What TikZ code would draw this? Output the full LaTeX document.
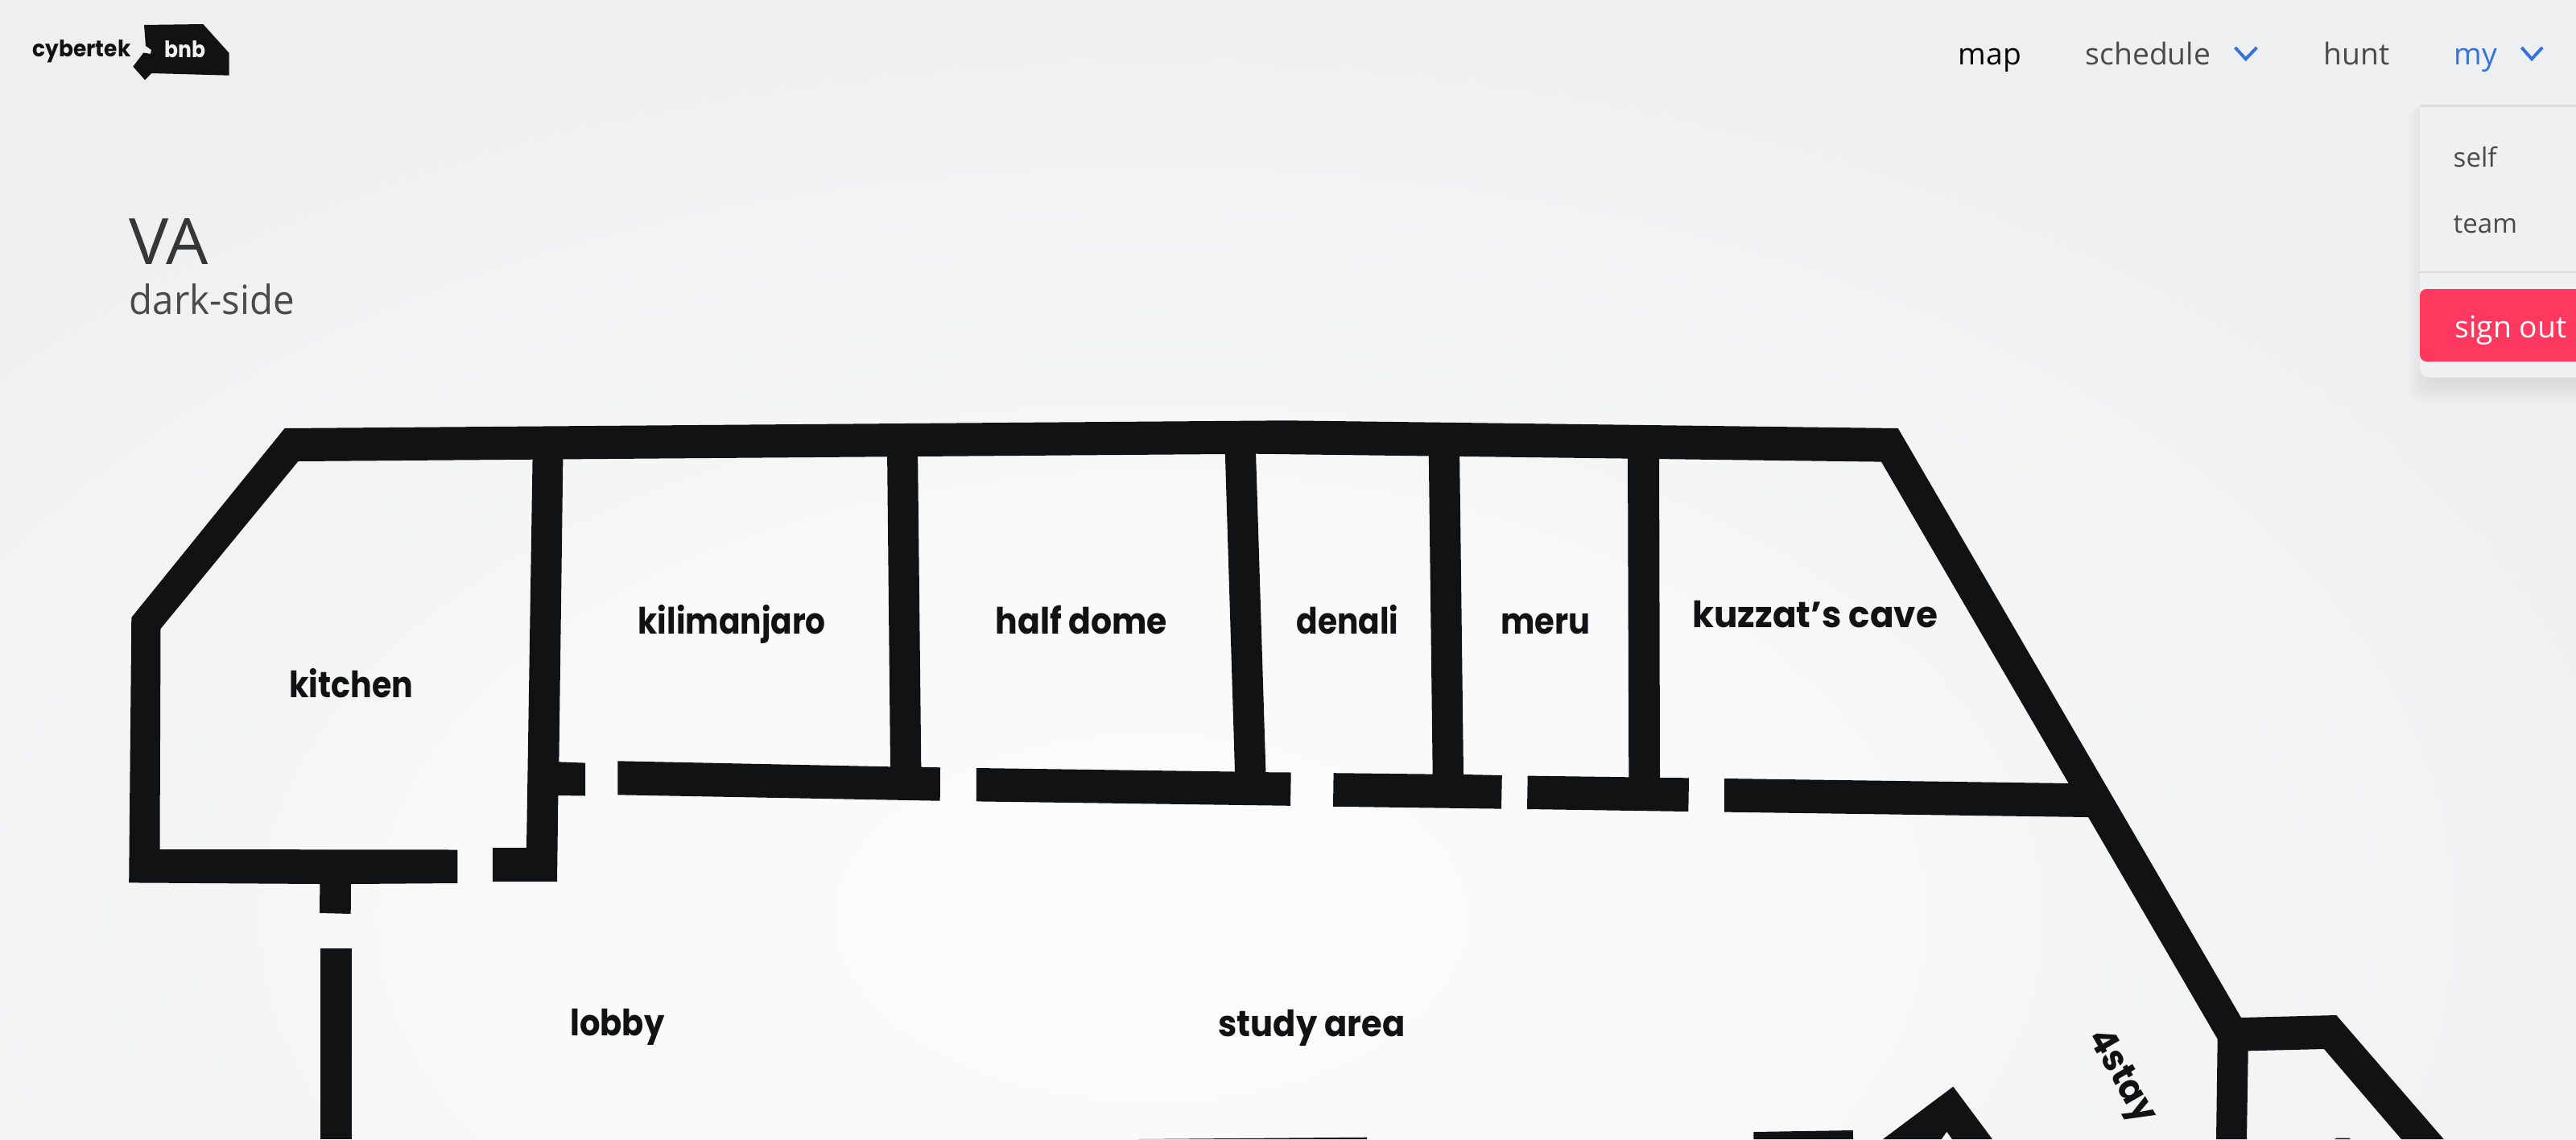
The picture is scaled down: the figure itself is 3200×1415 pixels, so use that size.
\documentclass[tikz,border=0pt]{standalone}
\usepackage{fontspec}
\setmainfont{Open Sans}
\newfontfamily\roomfont{Poppins}
\usetikzlibrary{positioning}
\definecolor{colorWall}{HTML}{111214}
\definecolor{colorGlowA}{HTML}{FCFBFB}
\definecolor{colorGlowB}{HTML}{FAFAFA}
\definecolor{colorGlowC}{HTML}{F5F5F5}
\definecolor{colorGlowD}{HTML}{F3F4F4}
\definecolor{colorGlowE}{HTML}{F1F2F3}
\definecolor{colorPage}{HTML}{EEEFF0}
\definecolor{colorPanel}{HTML}{EFF0F1}
\definecolor{colorLine}{HTML}{DCDCDC}
\definecolor{colorTitle}{HTML}{363636}
\definecolor{colorText}{HTML}{4A4A4A}
\definecolor{colorLink}{HTML}{3273DC}
\definecolor{colorDanger}{HTML}{FF3860}
\pgfdeclareradialshading{pageglow}{\pgfpointorigin}{color(0bp)=(colorGlowA); color(7bp)=(colorGlowB); color(10.2bp)=(colorGlowC); color(12bp)=(colorGlowD); color(15.3bp)=(colorGlowE); color(17.6bp)=(colorPage); color(50bp)=(colorPage)}
\tikzset{
  wall/.style={fill=colorWall},
  roomlabel/.style={anchor=base west, inner sep=0pt, text=colorWall, font=\roomfont\fontsize{12.8}{15}\selectfont\bfseries\addfontfeatures{FakeStretch=#1}},
  roomlabel/.default=0.9,
  logolabel/.style={anchor=base west, inner sep=0pt, text=colorWall, font=\roomfont\fontsize{8}{10}\selectfont\bfseries\addfontfeatures{FakeStretch=#1}},
  navlabel/.style={anchor=base west, inner sep=0pt, text=colorText, font=\fontsize{10.6}{13}\selectfont},
  menulabel/.style={anchor=base west, inner sep=0pt, text=colorText, font=\fontsize{9.4}{12}\selectfont},
  chevron/.style={draw=colorLink, line width=1.1pt, miter limit=10},
}
\begin{document}
\begin{tikzpicture}[x=0.01cm, y=-0.01cm]
\useasboundingbox (0,0) rectangle (3200,1415);
\clip (0,0) rectangle (3200,1415);
\shade[shading=pageglow] (1430,1140) ellipse (2800 and 1615);
% logo
\fill[wall] (179,31) -- (252.3,30) -- (284.7,66) -- (284.7,93.7) -- (188.3,91) -- (180,99.3) -- (165.3,82.7) -- (178.3,65.5) -- (187,67) -- (188,62) -- (181,57) -- cycle;
\node[logolabel=0.94] (logoLeft) at (40,70.7) {cybertek};
\node[logolabel=0.89, text=colorPanel] (logoRight) at (204,71.7) {bnb};
% title
\node[navlabel, text=colorTitle, font=\fontsize{22.6}{26}\selectfont\addfontfeatures{FakeStretch=1.04}] (siteTitle) at (160,328) {VA};
\node[navlabel, font=\fontsize{14.2}{17}\selectfont\addfontfeatures{FakeStretch=0.95}] (siteTeam) at (160,390.7) {dark-side};
% navigation
\node[navlabel, text=black] (navMap) at (2432,80.7) {map};
\node[navlabel] (navSchedule) at (2590,80.7) {schedule};
\node[navlabel] (navHunt) at (2886,80.7) {hunt};
\node[navlabel, text=colorLink] (navMy) at (3048,80.7) {my};
\draw[chevron] (2776.5,59) -- (2789.7,73.3) -- (2803.4,59);
\draw[chevron] (3132.4,59) -- (3145,73.3) -- (3158.2,59);
% dropdown
\foreach \grow in {-14,-10,...,14}
  \fill[black, opacity=0.0125, rounded corners=4pt] (3006-\grow,132) rectangle (3300,469+16+\grow);
\fill[colorPanel, rounded corners=3.4pt] (3006,200) rectangle (3300,469);
\fill[colorPanel] (3006,131) rectangle (3300,260);
\fill[colorLine] (3006,130) rectangle (3200,132.7);
\fill[colorLine] (3006,336.5) rectangle (3200,339);
\node[menulabel] (menuSelf) at (3047,207) {self};
\node[menulabel] (menuTeam) at (3047,289) {team};
\fill[colorDanger, rounded corners=2.3pt] (3006,359) rectangle (3300,449);
\node[navlabel, text=white] (menuOut) at (3049,419) {sign out};
% shell and walls
\fill[wall] (353.6,532) -- (1597.4,522.3) -- (2357.8,532) -- (2784,1264) -- (2902.3,1261) -- (3035.7,1415) -- (2983,1415) -- (2887,1303) -- (2792.7,1305.3) -- (2791,1415) -- (2753,1415) -- (2754.7,1290.7) -- (2337,573.6) -- (1560,563.7) -- (370.4,573) -- (199.5,781) -- (198.5,1055) -- (568.4,1055.5) -- (568.4,1097) -- (436,1098) -- (435.7,1135) -- (397,1134) -- (397.4,1098) -- (160.2,1096.4) -- (163.3,767) -- cycle;
\fill[wall] (661.7,560) -- (699.5,560) -- (694.4,946.4) -- (727,947.6) -- (727,988.5) -- (693.4,988) -- (692,1095) -- (612,1095) -- (612,1053) -- (654,1053) -- cycle;
\fill[wall] (767.3,945.3) -- (1106,952.3) -- (1102,555) -- (1140,555) -- (1144.3,952.7) -- (1168,953.3) -- (1167.7,994.7) -- (767.3,987.3) -- cycle;
\fill[wall] (1212.8,954) -- (1534,958.5) -- (1521.6,555) -- (1559.8,555) -- (1572.4,959.2) -- (1603.7,959.5) -- (1603,1000.8) -- (1212.8,995.4) -- cycle;
\fill[wall] (1656.6,960.2) -- (1779.7,961.6) -- (1774.7,555) -- (1813,555) -- (1818,962) -- (1865.8,963) -- (1865,1004.6) -- (1656,1001.8) -- cycle;
\fill[wall] (1897.7,963.6) -- (2023.3,965.3) -- (2022,555) -- (2061,555) -- (2062,966) -- (2098,966.3) -- (2097.3,1008) -- (1897,1005) -- cycle;
\fill[wall] (2142,967) -- (2569.5,973) -- (2600,990) -- (2594,1015) -- (2142,1008.6) -- cycle;
\fill[wall] (398,1177.5) -- (436.7,1177.5) -- (436.7,1415) -- (398,1415) -- cycle;
\fill[wall] (2178.3,1406) -- (2301.7,1404) -- (2302,1415) -- (2178.3,1415) -- cycle;
\fill[wall] (2339,1415) -- (2426.3,1349.7) -- (2475,1415) -- (2425,1415) -- (2418.3,1405.7) -- (2411.7,1415) -- cycle;
\fill[wall] (1413,1415) -- (1698,1412.7) -- (1698,1415) -- cycle;
\fill[wall] (2900,1415) -- (2903,1413.5) -- (2918,1413.5) -- (2920,1415) -- cycle;
% rooms
\node[roomlabel=0.88] (kitchen) at (358.7,866) {kitchen};
\node[roomlabel=0.87] (kilimanjaro) at (792,787) {kilimanjaro};
\node[roomlabel=0.91] (halfdome) at (1236,787) {half dome};
\node[roomlabel=0.87] (denali) at (1610,787) {denali};
\node[roomlabel=0.89] (meru) at (1863.4,787) {meru};
\node[roomlabel=0.97] (kuzzat) at (2101.8,779.3) {kuzzat’s cave};
\node[roomlabel=0.89] (lobby) at (707.6,1286.6) {lobby};
\node[roomlabel=0.925] (studyarea) at (1513,1287) {study area};
\node[roomlabel=0.95, anchor=center, rotate=-60] (fourstay) at (2634,1338) {4stay};
\end{tikzpicture}
\end{document}
